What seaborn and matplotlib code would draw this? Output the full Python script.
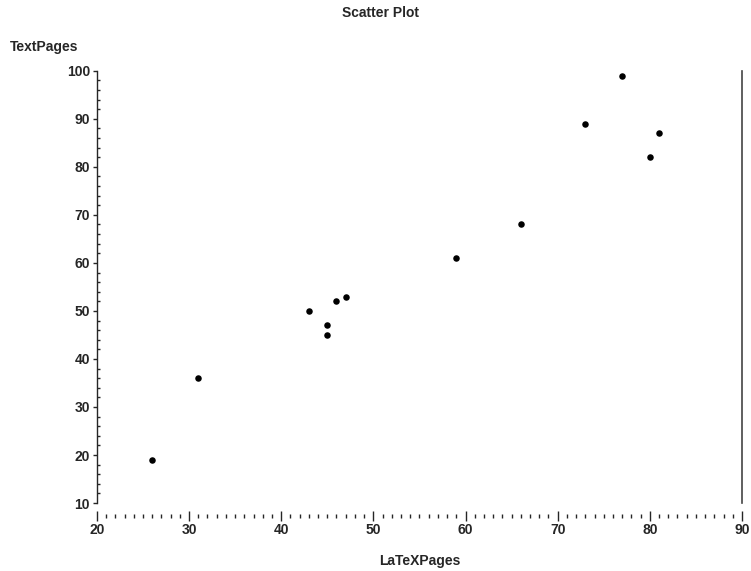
import numpy as np
import pandas as pd
import seaborn as sns
from matplotlib import pyplot as plt
from matplotlib.ticker import MultipleLocator

# values
latex_pages = [26, 31, 43, 45, 45, 46, 47, 59, 66, 73, 77, 80, 81]
text_pages = [19, 36, 50, 47, 45, 52, 53, 61, 68, 89, 99, 82, 87]
x_ticks = [20, 30, 40, 50, 60, 70, 80, 90]
y_ticks = [10, 20, 30, 40, 50, 60, 70, 80, 90, 100]

df = pd.DataFrame({"LaTeXPages": latex_pages, "TextPages": text_pages})

sns.set_style("ticks")
plt.rcParams["font.family"] = ["Liberation Sans", "DejaVu Sans"]
plt.rcParams["font.weight"] = "bold"

fig = plt.figure(figsize=(7.51, 5.71), dpi=100)
ax = fig.add_axes([0.129, 0.119, 0.859, 0.757])

sns.scatterplot(data=df, x="LaTeXPages", y="TextPages", ax=ax,
                color="black", s=22, edgecolor="black", linewidth=0)

ax.set_xlim(20, 90)
ax.set_ylim(10, 100)
ax.set_xticks(x_ticks)
ax.set_yticks(y_ticks)
ax.xaxis.set_minor_locator(MultipleLocator(1))
ax.yaxis.set_minor_locator(MultipleLocator(2))

for s in ["top"]:
    ax.spines[s].set_visible(False)
ax.spines["bottom"].set_position(("outward", 9))
ax.spines["bottom"].set_visible(False)
ax.spines["right"].set_color("#444444")
ax.spines["left"].set_linewidth(1.0)
ax.spines["right"].set_linewidth(1.2)

ax.tick_params(axis="x", which="major", direction="inout", length=7, width=1,
               labelsize=10, pad=2)
ax.tick_params(axis="x", which="minor", direction="inout", length=3, width=1)
ax.tick_params(axis="y", which="major", direction="out", length=3, width=1,
               labelsize=10, pad=2)
ax.tick_params(axis="y", which="minor", direction="in", length=2, width=1)

ax.set_xlabel("LaTeXPages", fontsize=10, fontweight="bold", labelpad=12)
ax.set_ylabel("")
fig.text(0.013, 0.905, "TextPages", fontsize=10, fontweight="bold",
         ha="left", va="bottom")
fig.text(0.506, 0.965, "Scatter Plot", fontsize=10, fontweight="bold",
         ha="center", va="bottom")

fig.savefig("out.png", dpi=100)
